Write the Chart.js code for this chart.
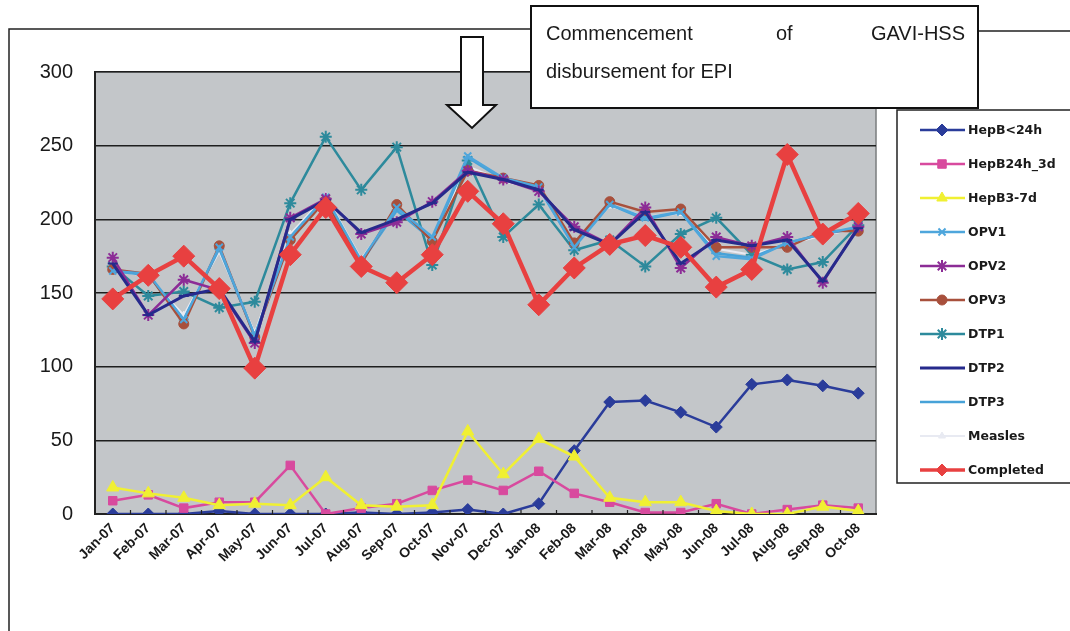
<!DOCTYPE html>
<html>
<head>
<meta charset="utf-8">
<script src="https://cdn.jsdelivr.net/npm/chart.js@4.4.1/dist/chart.umd.min.js"></script>
<style>
  html, body { margin: 0; padding: 0; background: #ffffff; }
  #wrap { position: relative; width: 1070px; height: 631px; }
  canvas { display: block; }
</style>
</head>
<body>
<div id="wrap"><canvas id="c" width="1070" height="631"></canvas></div>
<script>
const categories = ["Jan-07","Feb-07","Mar-07","Apr-07","May-07","Jun-07","Jul-07","Aug-07","Sep-07","Oct-07","Nov-07","Dec-07","Jan-08","Feb-08","Mar-08","Apr-08","May-08","Jun-08","Jul-08","Aug-08","Sep-08","Oct-08"];
const yTicks = [0, 50, 100, 150, 200, 250, 300];

const hepB24h   = [0,0,0,2,0,0,0,1,0,1,3,0,7,43,76,77,69,59,88,91,87,82];
const hepB24h3d = [9,13,4,8,8,33,0,4,7,16,23,16,29,14,8,1,1,7,0,3,6,4];
const hepB37d   = [18,14,11,6,7,6,25,6,5,6,56,27,51,39,11,8,8,2,0,0,5,2];
const opv1      = [165,163,132,181,121,188,215,172,208,188,243,228,222,181,210,201,205,175,173,184,190,195];
const opv2      = [174,135,159,152,116,201,214,190,198,212,233,227,219,195,183,208,167,188,182,188,157,195];
const opv3      = [166,163,129,182,120,186,213,170,210,185,233,228,223,184,212,205,207,181,181,181,192,192];
const dtp1      = [168,148,151,140,144,211,256,220,249,169,240,188,210,179,186,168,190,201,176,166,171,196];
const dtp2      = [170,135,148,153,117,200,213,191,200,211,232,227,220,193,183,205,170,186,182,186,158,194];
const dtp3      = [165,162,132,180,121,187,214,171,206,186,242,227,221,182,210,200,205,177,174,184,190,194];
const measles   = [166,161,135,178,123,190,216,173,207,187,236,226,220,184,209,202,204,180,176,183,189,194];
const completed = [146,162,175,153,99,176,208,168,157,176,219,197,142,167,183,189,181,154,166,244,190,204];

function ds(label, data, color, style, radius, width, order) {
  return {
    label: label, data: data,
    borderColor: color, backgroundColor: color,
    pointBackgroundColor: color, pointBorderColor: color,
    pointStyle: style, pointRadius: radius, pointHoverRadius: radius,
    pointBorderWidth: (style === 'cross' || style === 'crossRot' || style === 'star' || style === 'line') ? 2 : 1,
    borderWidth: width, tension: 0, order: order
  };
}

const datasets = [
  ds("HepB<24h",   hepB24h,   "#2a3c9a", "rectRot", 6, 2.5, 3),
  ds("HepB24h_3d", hepB24h3d, "#d84a9e", "rect",    6, 2.5, 2),
  ds("HepB3-7d",   hepB37d,   "#f0f032", "triangle",7, 2.5, 1),
  ds("OPV1",       opv1,      "#4ea6dc", "crossRot",5, 2.5, 6),
  ds("OPV2",       opv2,      "#8c2c96", "star",    6, 2.5, 5),
  ds("OPV3",       opv3,      "#a8503c", "circle",  5, 2.5, 7),
  ds("DTP1",       dtp1,      "#2d8a9c", "star",    6, 2.5, 9),
  ds("DTP2",       dtp2,      "#262a8c", "line",    5, 3,   4),
  ds("DTP3",       dtp3,      "#47a2d8", "line",    5, 2.5, 8),
  ds("Measles",    measles,   "#e8eaf2", "triangle",4, 2,   10),
  ds("Completed",  completed, "#e84040", "rectRot", 11, 4.5, 0)
];

const decor = {
  id: 'decor',
  beforeDraw(chart) {
    const ctx = chart.ctx, a = chart.chartArea;
    ctx.save();
    ctx.fillStyle = '#ffffff';
    ctx.fillRect(0, 0, chart.width, chart.height);
    ctx.fillStyle = '#c3c6c9';
    ctx.fillRect(a.left, a.top, a.right - a.left, a.bottom - a.top);
    ctx.strokeStyle = '#7a7c7e';
    ctx.lineWidth = 1.5;
    ctx.strokeRect(a.left, a.top, a.right - a.left, a.bottom - a.top);
    ctx.restore();
  },
  afterDatasetsDraw(chart) {
    // small category tick marks inside the plot along the x axis
    const ctx = chart.ctx, a = chart.chartArea, xs = chart.scales.x;
    ctx.save();
    ctx.strokeStyle = '#222';
    ctx.lineWidth = 1.2;
    const n = chart.data.labels.length;
    const step = (a.right - a.left) / n;
    ctx.beginPath();
    for (let i = 1; i < n; i++) {
      const x = a.left + step * i;
      ctx.moveTo(x, a.bottom); ctx.lineTo(x, a.bottom - 4);
    }
    ctx.stroke();
    ctx.restore();
  },
  afterDraw(chart) {
    const ctx = chart.ctx;
    ctx.save();
    // outer frame
    ctx.strokeStyle = '#222';
    ctx.lineWidth = 1.5;
    ctx.beginPath();
    ctx.moveTo(9, 631); ctx.lineTo(9, 29); ctx.lineTo(531, 29);
    ctx.moveTo(978, 31); ctx.lineTo(1070, 31);
    ctx.stroke();

    // legend box
    ctx.lineWidth = 1.5;
    ctx.strokeStyle = '#222';
    ctx.beginPath();
    ctx.moveTo(1070, 110); ctx.lineTo(897, 110); ctx.lineTo(897, 483); ctx.lineTo(1070, 483);
    ctx.stroke();

    // legend entries
    const metas = chart.data.datasets;
    metas.forEach((d, i) => {
      const y = 130 + i * 34;
      ctx.strokeStyle = d.borderColor;
      ctx.lineWidth = Math.min(d.borderWidth, 3.5);
      ctx.beginPath(); ctx.moveTo(920, y); ctx.lineTo(965, y); ctx.stroke();
      ctx.fillStyle = d.pointBackgroundColor;
      ctx.strokeStyle = d.pointBorderColor;
      ctx.lineWidth = d.pointBorderWidth;
      Chart.helpers.drawPoint(ctx, {pointStyle: d.pointStyle, radius: Math.min(d.pointRadius, 6), rotation: 0, borderWidth: d.pointBorderWidth}, 942, y);
      ctx.fillStyle = '#1a1a1a';
      ctx.font = 'bold 12.5px "DejaVu Sans", sans-serif';
      ctx.textBaseline = 'middle';
      ctx.textAlign = 'left';
      ctx.fillText(d.label, 968, y + 1);
    });

    // arrow
    ctx.fillStyle = '#ffffff';
    ctx.strokeStyle = '#111';
    ctx.lineWidth = 2;
    ctx.beginPath();
    ctx.moveTo(461, 37); ctx.lineTo(483, 37); ctx.lineTo(483, 105);
    ctx.lineTo(496, 105); ctx.lineTo(472, 128); ctx.lineTo(447, 105);
    ctx.lineTo(461, 105); ctx.closePath();
    ctx.fill(); ctx.stroke();

    // annotation box
    ctx.fillStyle = '#ffffff';
    ctx.fillRect(531, 6, 447, 102);
    ctx.lineWidth = 2;
    ctx.strokeRect(531, 6, 447, 102);
    ctx.fillStyle = '#1a1a1a';
    ctx.font = '20px "Liberation Sans", Arial, sans-serif';
    ctx.textBaseline = 'alphabetic';
    ctx.textAlign = 'left';
    ctx.fillText('Commencement', 546, 40);
    ctx.fillText('of', 776, 40);
    ctx.textAlign = 'right';
    ctx.fillText('GAVI-HSS', 965, 40);
    ctx.textAlign = 'left';
    ctx.fillText('disbursement for EPI', 546, 78);
    ctx.restore();
  }
};

new Chart(document.getElementById('c'), {
  type: 'line',
  data: { labels: categories, datasets: datasets },
  options: {
    responsive: false,
    animation: false,
    layout: { padding: { left: 10, top: 72, right: 194, bottom: 0 } },
    plugins: { legend: { display: false }, tooltip: { enabled: false } },
    scales: {
      x: {
        offset: true,
        grid: { display: false, drawTicks: false },
        border: { display: true, color: '#222', width: 2 },
        ticks: {
          autoSkip: false, maxRotation: 45, minRotation: 45,
          color: '#1a1a1a', padding: 6,
          font: { family: '"Liberation Sans", Arial, sans-serif', size: 14, weight: 'bold' }
        },
        afterFit(scale) { scale.height = 117; }
      },
      y: {
        min: 0, max: 300,
        afterBuildTicks(scale) { scale.ticks = yTicks.map(v => ({ value: v })); },
        grid: { color: '#1e1e1e', lineWidth: 1.5, drawTicks: false },
        border: { display: true, color: '#222', width: 2 },
        ticks: {
          color: '#1a1a1a', padding: 22,
          font: { family: '"Liberation Sans", Arial, sans-serif', size: 20 }
        },
        afterFit(scale) { scale.width = 85; }
      }
    }
  },
  plugins: [decor]
});
</script>
</body>
</html>
